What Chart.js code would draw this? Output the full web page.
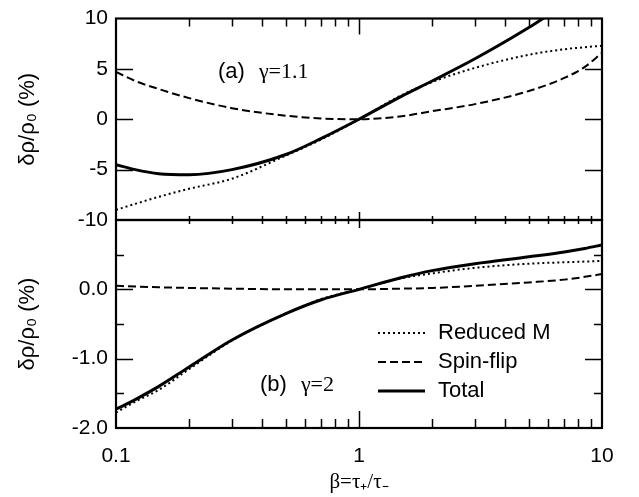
<!DOCTYPE html>
<html>
<head>
<meta charset="utf-8">
<script src="https://cdn.jsdelivr.net/npm/chart.js@4/dist/chart.umd.min.js"></script>
<style>
  body { margin: 0; background: #fff; }
  #wrap { position: relative; width: 639px; height: 497px; }
  canvas { position: absolute; left: 0; top: 0; }
</style>
</head>
<body>
<div id="wrap">
  <canvas id="bot" width="639" height="497"></canvas>
  <canvas id="top" width="639" height="497"></canvas>
</div>
<script>
// beta = tau+/tau-
const beta = [0.1, 0.12, 0.15, 0.2, 0.3, 0.5, 0.7, 1, 1.5, 2, 3, 5, 7, 8.5, 10];

// (a) gamma = 1.1
const reducedA = [-9.0, -8.4, -7.7, -6.9, -5.9, -3.6, -2.0, 0, 2.4, 3.7, 5.1, 6.4, 6.95, 7.15, 7.3];
const spinA    = [4.7, 3.8, 3.0, 2.1, 1.1, 0.35, 0.08, 0, 0.3, 0.8, 1.5, 2.8, 4.1, 5.2, 6.6];
const totalA   = [-4.5, -5.0, -5.4, -5.5, -5.0, -3.5, -1.9, 0, 2.3, 3.8, 6.0, 9.1, 11.4, 12.7, 14.0];

// (b) gamma = 2
const reducedB = [-1.78, -1.62, -1.45, -1.15, -0.74, -0.35, -0.14, 0, 0.16, 0.23, 0.31, 0.37, 0.39, 0.40, 0.41];
const spinB    = [0.05, 0.04, 0.03, 0.02, 0.01, 0, 0, 0, 0.01, 0.02, 0.05, 0.10, 0.14, 0.18, 0.22];
const totalB   = [-1.73, -1.59, -1.40, -1.12, -0.73, -0.35, -0.15, 0, 0.17, 0.27, 0.37, 0.47, 0.54, 0.59, 0.64];

const seriesNames = ['Reduced M', 'Spin-flip', 'Total'];
const xTickLabels = [0.1, 1, 10];
const yTicksA = [10, 5, 0, -5, -10];
const yTicksB = [1, 0.5, 0, -0.5, -1, -1.5, -2];

const SANS = '"Liberation Sans", Arial, sans-serif';
const SERIF = '"Liberation Serif", "Times New Roman", serif';

const pts = vals => beta.map((b, i) => ({x: b, y: vals[i]}));

function datasets(r, s, t) {
  return [
    {label: seriesNames[0], data: pts(r), borderDash: [2, 3], borderWidth: 2},
    {label: seriesNames[1], data: pts(s), borderDash: [8, 4], borderWidth: 2},
    {label: seriesNames[2], data: pts(t), borderWidth: 3}
  ];
}

// frame + inward ticks
function frameTicks(chart, o) {
  const {ctx, chartArea: a} = chart;
  const x = chart.scales.x, y = chart.scales.y;
  ctx.save();
  ctx.strokeStyle = '#000';
  ctx.lineWidth = 1.5;
  ctx.beginPath();
  for (let d = 0.1; d < 20; d *= 10) {
    for (let k = 1; k <= 9; k++) {
      const v = d * k;
      if (v <= 0.1 + 1e-9 || v >= 10 - 1e-9) continue;
      const px = Math.round(x.getPixelForValue(v)) + 0.5;
      const maj = k === 1;
      const lt = maj ? o.topMaj : o.topMin, lb = maj ? o.botMaj : o.botMin;
      ctx.moveTo(px, a.top); ctx.lineTo(px, a.top + lt);
      ctx.moveTo(px, a.bottom); ctx.lineTo(px, a.bottom - lb);
    }
  }
  o.yTicks.forEach(v => {
    if (v === y.min || v === y.max) return;
    const py = Math.round(y.getPixelForValue(v)) + 0.5;
    const len = o.yMajor(v) ? 17 : 8;
    ctx.moveTo(a.left, py); ctx.lineTo(a.left + len, py);
    ctx.moveTo(a.right, py); ctx.lineTo(a.right - len, py);
  });
  ctx.stroke();
  ctx.lineWidth = 2.2;
  ctx.strokeRect(a.left, a.top, a.right - a.left, a.bottom - a.top);
  ctx.restore();
}

function drawLabel(ctx, parts, x, y) {
  ctx.textBaseline = 'middle';
  ctx.textAlign = 'left';
  parts.forEach(p => {
    ctx.font = p.font;
    ctx.fillText(p.text, x, y);
    x += ctx.measureText(p.text).width + (p.gap || 0);
  });
}

function baseOptions(pad, yOpts) {
  return {
    responsive: false,
    animation: false,
    layout: {padding: pad},
    elements: {point: {radius: 0},
               line: {borderColor: '#000', cubicInterpolationMode: 'monotone', fill: false}},
    plugins: {legend: {display: false}, tooltip: {enabled: false}},
    scales: {
      x: {
        type: 'logarithmic', min: 0.1, max: 10,
        grid: {display: false, drawTicks: false}, border: {display: false},
        afterBuildTicks: s => { s.ticks = xTickLabels.map(v => ({value: v})); }
      },
      y: Object.assign({
        type: 'linear',
        grid: {display: false, drawTicks: false}, border: {display: false},
        title: {display: true, text: 'δρ/ρ₀ (%)', color: '#000', padding: 0,
                font: {family: SANS, size: 22}},
        afterFit: s => { s.width = 101; }
      }, yOpts)
    }
  };
}

// top panel (a)
const optTop = baseOptions({left: 15, right: 37, top: 12, bottom: 277}, {
  min: -10, max: 10,
  afterBuildTicks: s => { s.ticks = yTicksA.map(v => ({value: v})); },
  ticks: {color: '#000', padding: 8, font: {family: SANS, size: 21, lineHeight: 1}}
});
optTop.scales.x.display = false;

new Chart(document.getElementById('top'), {
  type: 'line',
  data: {datasets: datasets(reducedA, spinA, totalA)},
  options: optTop,
  plugins: [{
    id: 'panelA',
    afterDraw(chart) {
      frameTicks(chart, {topMaj: 16, topMin: 8, botMaj: 8, botMin: 4,
        yTicks: yTicksA, yMajor: () => true});
      const ctx = chart.ctx;
      ctx.save();
      ctx.fillStyle = '#000';
      drawLabel(ctx, [{text: '(a)', font: '22px ' + SANS, gap: 14},
                      {text: 'γ=1.1', font: '22px ' + SERIF}], 218, 72);
      ctx.restore();
    }
  }]
});

// bottom panel (b)
const optBot = baseOptions({left: 15, right: 37, top: 220, bottom: 2}, {
  min: -2, max: 1,
  afterBuildTicks: s => { s.ticks = [1, 0, -1, -2].map(v => ({value: v})); },
  ticks: {color: '#000', padding: 8, font: {family: SANS, size: 21, lineHeight: 1},
          callback: v => v === 1 ? '' : v.toFixed(1)}
});
Object.assign(optBot.scales.x, {
  ticks: {color: '#000', padding: 18, font: {family: SANS, size: 21, lineHeight: 1},
          autoSkip: false, maxRotation: 0, callback: v => String(v)},
  title: {display: true, text: 'β=τ₊/τ₋', color: '#000', padding: 0,
          font: {family: SERIF, size: 21}},
  afterFit: s => { s.height = 67; }
});

new Chart(document.getElementById('bot'), {
  type: 'line',
  data: {datasets: datasets(reducedB, spinB, totalB)},
  options: optBot,
  plugins: [{
    id: 'panelB',
    afterDraw(chart) {
      frameTicks(chart, {topMaj: 8, topMin: 4, botMaj: 17, botMin: 9,
        yTicks: yTicksB, yMajor: v => Number.isInteger(v)});
      const ctx = chart.ctx;
      ctx.save();
      ctx.fillStyle = '#000';
      ctx.strokeStyle = '#000';
      const rows = [333, 362, 391];
      chart.data.datasets.forEach((ds, i) => {
        ctx.lineWidth = ds.borderWidth;
        ctx.setLineDash(ds.borderDash || []);
        ctx.beginPath();
        ctx.moveTo(378, rows[i]); ctx.lineTo(425, rows[i]);
        ctx.stroke();
        ctx.setLineDash([]);
        drawLabel(ctx, [{text: ds.label, font: '22px ' + SANS}], 438, rows[i]);
      });
      drawLabel(ctx, [{text: '(b)', font: '22px ' + SANS, gap: 14},
                      {text: 'γ=2', font: '22px ' + SERIF}], 260, 385);
      ctx.restore();
    }
  }]
});
</script>
</body>
</html>
